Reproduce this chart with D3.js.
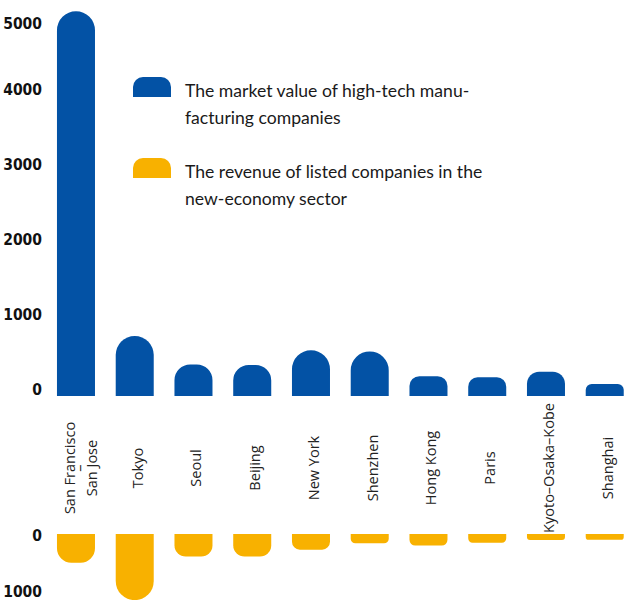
<!DOCTYPE html>
<html>
<head>
<meta charset="utf-8">
<script src="https://cdn.jsdelivr.net/npm/d3@7"></script>
<style>
  html, body { margin: 0; padding: 0; background: #fff; }
  svg { display: block; }
</style>
</head>
<body>
<div id="chart"></div>
<script>
// data
const cities = ["San Francisco – San Jose", "Tokyo", "Seoul", "Beijing", "New York",
                "Shenzhen", "Hong Kong", "Paris", "Kyoto–Osaka–Kobe", "Shanghai"];
const marketValue = [5130, 800, 420, 415, 610, 595, 265, 250, 325, 160];
const revenue = [495, 1140, 390, 390, 270, 160, 200, 150, 105, 100];
const topTicks = [0, 1000, 2000, 3000, 4000, 5000];
const bottomTicks = [0, 1000];
const legendLabels = [
  ["The market value of high-tech manu-", "facturing companies"],
  ["The revenue of listed companies in the", "new-economy sector"]
];

const width = 624, height = 600;
const blue = "#0352a5", yellow = "#f8b100";

const svg = d3.select("#chart").append("svg")
    .attr("width", width)
    .attr("height", height);

let x = d3.scaleBand()
    .domain(cities)
    .range([46.6, 634.1])
    .paddingInner(0.353)
    .paddingOuter(0.353 / 2);

let yTop = d3.scaleLinear().domain([0, 5000]).range([396, 21]);
let yBot = d3.scaleLinear().domain([0, 1000]).range([534, 592]);

// bar with rounded free end (works both up and down)
function roundBar(x0, w, base, end) {
  let h = Math.abs(end - base);
  let dir = end < base ? -1 : 1;
  let r = Math.min(w / 2, h / 2);
  let p = d3.path();
  p.moveTo(x0, base);
  p.lineTo(x0, end - dir * r);
  p.arcTo(x0, end, x0 + r, end, r);
  p.lineTo(x0 + w - r, end);
  p.arcTo(x0 + w, end, x0 + w, end - dir * r, r);
  p.lineTo(x0 + w, base);
  p.closePath();
  return p.toString();
}

// top bars
svg.append("g").selectAll("path")
  .data(marketValue)
  .enter().append("path")
    .attr("d", (d, i) => roundBar(x(cities[i]), x.bandwidth(), yTop(0), yTop(d)))
    .attr("fill", blue);

// bottom bars
svg.append("g").selectAll("path")
  .data(revenue)
  .enter().append("path")
    .attr("d", (d, i) => roundBar(x(cities[i]), x.bandwidth(), yBot(0), yBot(d)))
    .attr("fill", yellow);

// axis labels
const tickFont = "'Liberation Sans Narrow', 'DejaVu Sans Condensed', sans-serif";
svg.append("g").selectAll("text")
  .data(topTicks)
  .enter().append("text")
    .attr("x", 42)
    .attr("y", d => Math.max(yTop(d) - 7, 23))
    .attr("dy", "0.36em")
    .attr("text-anchor", "end")
    .style("font-family", tickFont)
    .style("font-weight", "bold")
    .style("font-size", "15.5px")
    .style("fill", "#111")
    .text(d => d);

svg.append("g").selectAll("text")
  .data(bottomTicks)
  .enter().append("text")
    .attr("x", 42)
    .attr("y", d => Math.min(yBot(d) + 1, 591))
    .attr("dy", "0.36em")
    .attr("text-anchor", "end")
    .style("font-family", tickFont)
    .style("font-weight", "bold")
    .style("font-size", "15.5px")
    .style("fill", "#111")
    .text(d => d);

// category labels, rotated
let labels = svg.append("g").selectAll("g")
  .data(cities)
  .enter().append("g")
    .attr("transform", d => `translate(${x(d) + x.bandwidth() / 2}, 468) rotate(-90)`);

labels.each(function (d) {
  let g = d3.select(this);
  let lines = d.split(" – ");
  let t = g.append("text")
    .attr("text-anchor", "middle")
    .style("font-family", "'Open Sans', sans-serif")
    .style("font-size", "14.5px")
    .style("fill", "#222");
  if (lines.length === 1) {
    t.attr("y", 8).text(d);
  } else {
    t.append("tspan").attr("x", 0).attr("y", -1).text(lines[0]);
    t.append("tspan").attr("x", 0).attr("y", 9).text("–");
    t.append("tspan").attr("x", 0).attr("y", 21).text(lines[1]);
  }
});

// legend
let legend = svg.append("g").selectAll("g")
  .data(legendLabels)
  .enter().append("g")
    .attr("transform", (d, i) => `translate(0, ${i * 81})`);

legend.append("path")
  .attr("d", roundBar(133, 38, 97, 77))
  .attr("fill", (d, i) => i === 0 ? blue : yellow);

legend.append("text")
  .style("font-family", "Lato, sans-serif")
  .style("font-size", "17.6px")
  .style("fill", "#1a1a1a")
  .selectAll("tspan")
  .data(d => d)
  .enter().append("tspan")
    .attr("x", 185)
    .attr("y", (d, i) => 97 + i * 27)
    .text(d => d);
</script>
</body>
</html>
